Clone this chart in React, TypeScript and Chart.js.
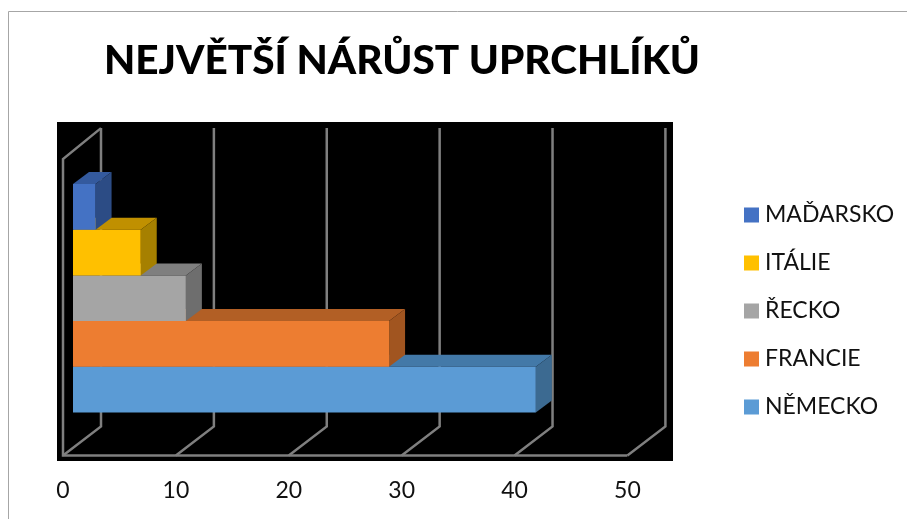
import React, { useEffect, useRef } from "react";
import { Chart, registerables } from "chart.js";

Chart.register(...registerables);

const titleText = "NEJVĚTŠÍ NÁRŮST UPRCHLÍKŮ";
const categories = [""];
const seriesNames = ["MAĎARSKO", "ITÁLIE", "ŘECKO", "FRANCIE", "NĚMECKO"];
const seriesValues = [2, 6, 10, 28, 41];
const frontColors = ["#4472C4", "#FFC000", "#A5A5A5", "#ED7D31", "#5B9BD5"];
const sideColors = ["#2C4C85", "#A68000", "#6E6E6E", "#A15520", "#3C6A91"];
const topColors = ["#345A9E", "#C09000", "#7F7F7F", "#B25F25", "#4379A8"];
const axisTicks = [0, 10, 20, 30, 40, 50];

const GRID = "#7F7F7F";
const WALL_DX = 38;
const WALL_DY = -29;
const WALL_TOP_DY = -31;
const BAR_DX = 10;
const BAR_DY = -9;
const DEPTH_DX = 16;
const DEPTH_DY = -12;
const FONT = "Lato, 'Open Sans', 'Noto Sans'";

const scene = {
  id: "scene",
  afterLayout(chart: any) {
    chart.titleBlock.left = 104;
    const legendShiftX = 724.5 - chart.legend.left;
    chart.legend.left += legendShiftX;
    chart.legend.right += legendShiftX;
    const legendShiftY = 311 - (chart.legend.top + chart.legend.bottom) / 2;
    chart.legend.top += legendShiftY;
    chart.legend.bottom += legendShiftY;
  },
  beforeDraw(chart: any) {
    const { ctx, chartArea: a, scales } = chart;
    ctx.save();
    ctx.fillStyle = "#000";
    ctx.fillRect(a.left - 6, 122, 616, 339);
    ctx.strokeStyle = GRID;
    ctx.lineWidth = 2.5;
    const y = a.bottom;
    const top = a.top;
    axisTicks.forEach((t) => {
      const x = scales.x.getPixelForValue(t);
      ctx.beginPath();
      ctx.moveTo(x, y);
      ctx.lineTo(x + WALL_DX, y + WALL_DY);
      ctx.lineTo(x + WALL_DX, top + WALL_TOP_DY);
      ctx.stroke();
    });
    const x0 = scales.x.getPixelForValue(0);
    const x1 = scales.x.getPixelForValue(50);
    ctx.beginPath();
    ctx.moveTo(x0 + WALL_DX, top + WALL_TOP_DY);
    ctx.lineTo(x0, top);
    ctx.lineTo(x0, y);
    ctx.lineTo(x1, y);
    ctx.stroke();
    ctx.restore();
  },
  beforeDatasetDraw(chart: any, args: any) {
    const { ctx } = chart;
    const i = args.index;
    const bar = args.meta.data[0];
    const { x, y, height } = bar.getProps(["x", "y", "height"], true);
    const left = chart.scales.x.getPixelForValue(0);
    const t = y - height / 2;
    const b = y + height / 2;
    ctx.save();
    ctx.translate(BAR_DX, BAR_DY);
    ctx.fillStyle = topColors[i];
    ctx.beginPath();
    ctx.moveTo(left, t);
    ctx.lineTo(left + DEPTH_DX, t + DEPTH_DY);
    ctx.lineTo(x + DEPTH_DX, t + DEPTH_DY);
    ctx.lineTo(x, t);
    ctx.closePath();
    ctx.fill();
    ctx.fillStyle = sideColors[i];
    ctx.beginPath();
    ctx.moveTo(x, t);
    ctx.lineTo(x + DEPTH_DX, t + DEPTH_DY);
    ctx.lineTo(x + DEPTH_DX, b + DEPTH_DY);
    ctx.lineTo(x, b);
    ctx.closePath();
    ctx.fill();
  },
  afterDatasetDraw(chart: any) {
    chart.ctx.restore();
  },
  afterDraw(chart: any) {
    const { ctx } = chart;
    ctx.save();
    ctx.strokeStyle = "#A6A6A6";
    ctx.lineWidth = 1;
    ctx.beginPath();
    ctx.moveTo(8.5, 519);
    ctx.lineTo(8.5, 11.5);
    ctx.lineTo(907, 11.5);
    ctx.stroke();
    ctx.restore();
  },
};

export default function App() {
  const ref = useRef<HTMLCanvasElement>(null);
  useEffect(() => {
    const chart = new Chart(ref.current!, {
      type: "bar",
      data: {
        labels: categories,
        datasets: seriesNames.map((name, i) => ({
          label: name,
          data: [seriesValues[i]],
          backgroundColor: frontColors[i],
          borderWidth: 0,
          categoryPercentage: 0.771,
          barPercentage: 1,
        })),
      },
      options: {
        indexAxis: "y",
        animation: false,
        responsive: false,
        layout: { padding: { top: 9, left: 55, right: 100, bottom: 2 } },
        plugins: {
          tooltip: { enabled: false },
          title: {
            display: true,
            text: titleText,
            color: "#000",
            align: "start",
            font: { family: FONT, size: 40.5, weight: "900" },
            padding: { top: 28, bottom: 73.5 },
          },
          legend: {
            position: "right",
            align: "center",
            labels: {
              color: "#111",
              usePointStyle: true,
              pointStyle: "rect",
              boxWidth: 4,
              boxHeight: 15,
              padding: 25,
              font: { family: FONT, size: 23 },
            },
          },
        },
        scales: {
          x: {
            type: "linear",
            min: 0,
            max: 50,
            ticks: { stepSize: 10, color: "#111", padding: 13, font: { family: FONT, size: 23 } },
            grid: { display: false },
            border: { display: false },
          },
          y: {
            type: "category",
            ticks: { display: false },
            grid: { display: false },
            border: { display: false },
          },
        },
      },
      plugins: [scene],
    } as any);
    return () => chart.destroy();
  }, []);
  return <canvas ref={ref} width={907} height={519} style={{ display: "block", position: "fixed", left: 0, top: 0 }} />;
}
